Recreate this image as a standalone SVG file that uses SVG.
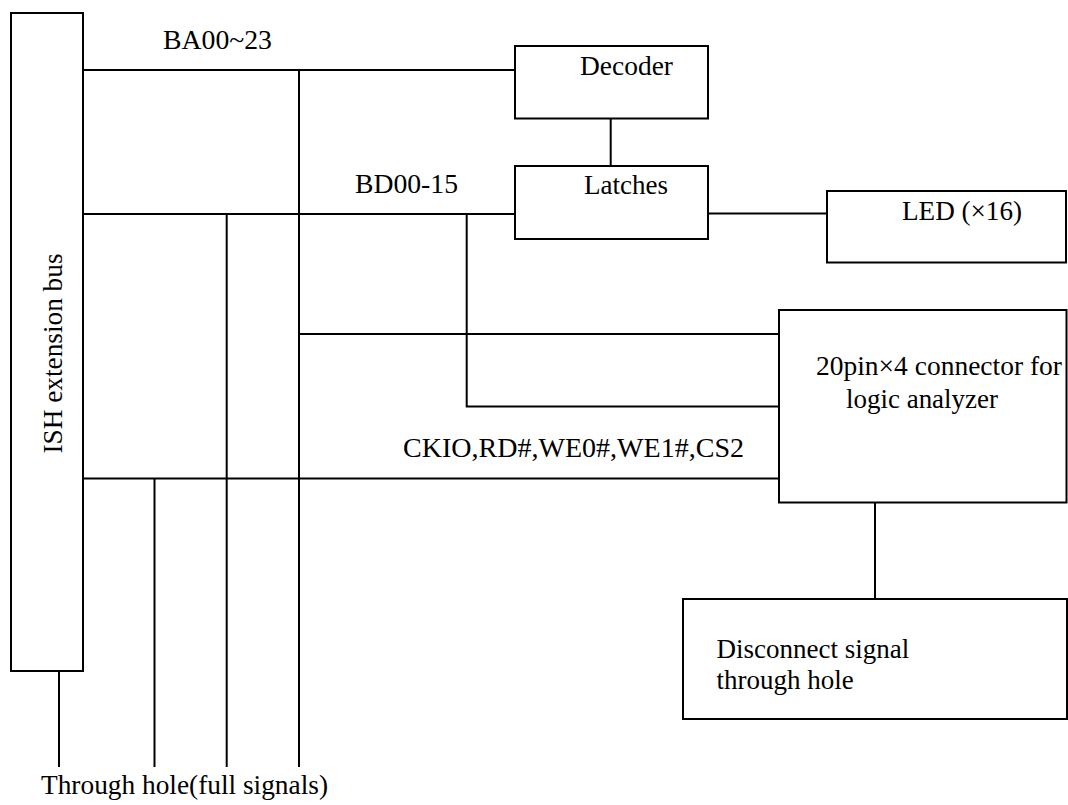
<svg xmlns="http://www.w3.org/2000/svg" width="1068" height="805" viewBox="0 0 1068 805" font-family="'Liberation Serif', 'DejaVu Serif', serif">
<style>
.box{fill:#fff;stroke:#000;stroke-width:2}
.ln{fill:none;stroke:#000;stroke-width:2}
text{font-family:'Liberation Serif','DejaVu Serif',serif;font-size:27px;fill:#000}
</style>
<rect width="1068" height="805" fill="#fff"/>
<g id="connectors">
<line class="ln" x1="83" y1="70" x2="515" y2="70"/>
<line class="ln" x1="83" y1="214" x2="515" y2="214"/>
<line class="ln" x1="83" y1="478.5" x2="779" y2="478.5"/>
<line class="ln" x1="299" y1="70" x2="299" y2="767"/>
<line class="ln" x1="226.7" y1="214" x2="226.7" y2="767"/>
<line class="ln" x1="154.5" y1="478.5" x2="154.5" y2="767"/>
<line class="ln" x1="59" y1="671" x2="59" y2="767"/>
<line class="ln" x1="299" y1="334" x2="779" y2="334"/>
<polyline class="ln" points="466.7,214 466.7,406.5 779,406.5"/>
<line class="ln" x1="610.7" y1="118" x2="610.7" y2="166"/>
<line class="ln" x1="708" y1="213.5" x2="827" y2="213.5"/>
<line class="ln" x1="875" y1="502" x2="875" y2="599"/>
<text x="163" y="49" textLength="109" lengthAdjust="spacingAndGlyphs">BA00~23</text>
<text x="355" y="193" textLength="103" lengthAdjust="spacingAndGlyphs">BD00-15</text>
<text x="403" y="456.5" textLength="341" lengthAdjust="spacingAndGlyphs">CKIO,RD#,WE0#,WE1#,CS2</text>
<text x="41" y="794" textLength="287" lengthAdjust="spacingAndGlyphs">Through hole(full signals)</text>
</g>
<g id="bus">
<rect class="box" x="11" y="13" width="72" height="658"/>
<text transform="translate(61.5,453.5) rotate(-90)" textLength="200" lengthAdjust="spacingAndGlyphs">ISH extension bus</text>
</g>
<g id="decoder">
<rect class="box" x="515" y="46" width="193" height="72.5"/>
<text x="580" y="75" textLength="93" lengthAdjust="spacingAndGlyphs">Decoder</text>
</g>
<g id="latches">
<rect class="box" x="515" y="166" width="193" height="73"/>
<text x="584" y="194" textLength="84" lengthAdjust="spacingAndGlyphs">Latches</text>
</g>
<g id="led">
<rect class="box" x="827" y="191" width="239" height="71.5"/>
<text x="902" y="220" textLength="120" lengthAdjust="spacingAndGlyphs">LED (×16)</text>
</g>
<g id="connector">
<rect class="box" x="779" y="310" width="287.5" height="192.5"/>
<text x="816" y="375" textLength="246" lengthAdjust="spacingAndGlyphs">20pin×4 connector for</text>
<text x="846" y="408" textLength="152" lengthAdjust="spacingAndGlyphs">logic analyzer</text>
</g>
<g id="disconnect">
<rect class="box" x="683" y="599" width="384" height="120"/>
<text x="716.5" y="658">Disconnect signal</text>
<text x="716.5" y="689">through hole</text>
</g>
</svg>
